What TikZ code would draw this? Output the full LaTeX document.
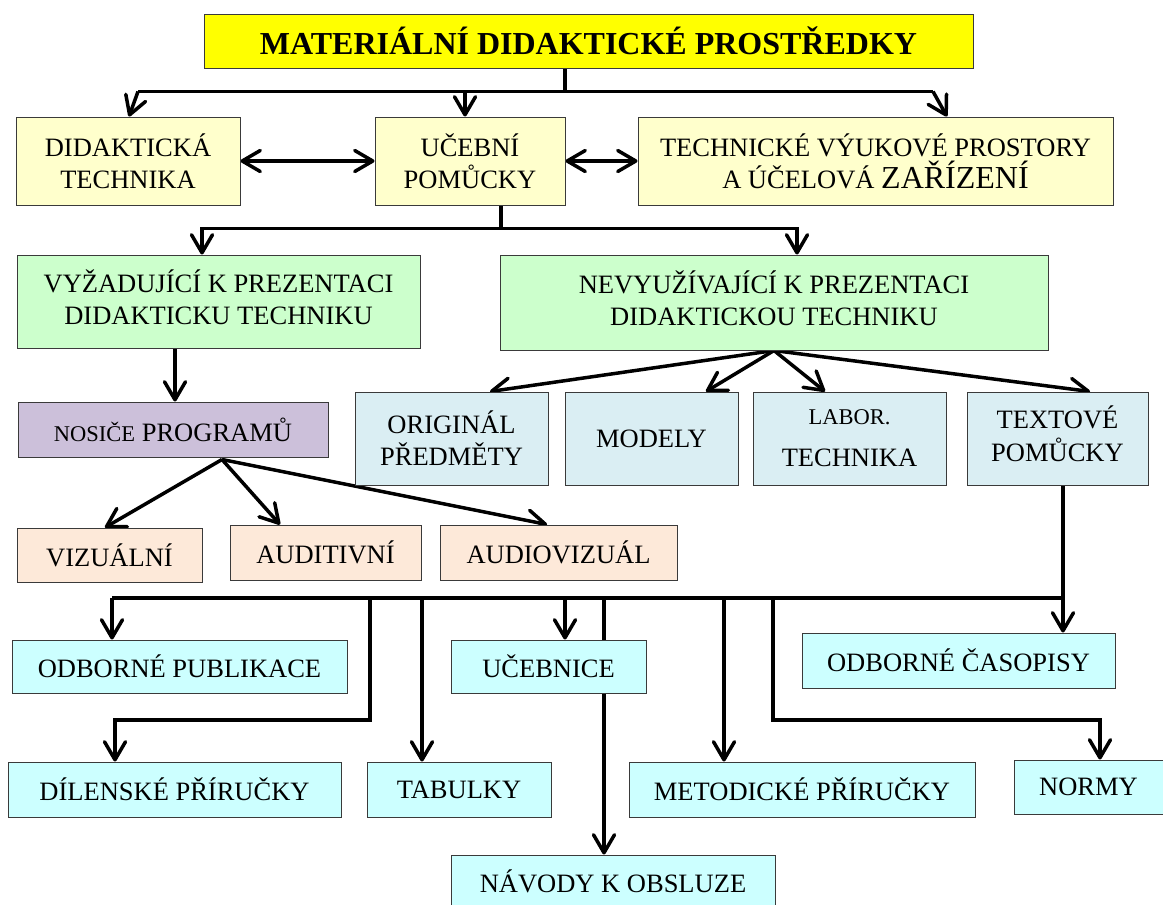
\documentclass[tikz,border=0pt]{standalone}
\usepackage{fontspec}
\setmainfont{Liberation Serif}
\usetikzlibrary{arrows.meta,calc}
\pgfdeclarelayer{bg}
\pgfsetlayers{bg,main}
\definecolor{cTitle}{HTML}{FFFF00}
\definecolor{cYel}{HTML}{FFFFCC}
\definecolor{cGreen}{HTML}{CCFFCC}
\definecolor{cPurp}{HTML}{CCC0DA}
\definecolor{cPeach}{HTML}{FDE9D9}
\definecolor{cBlue}{HTML}{DAEEF3}
\definecolor{cCyan}{HTML}{CCFFFF}
\definecolor{cBorder}{HTML}{3A3A3A}
\newcommand\smallcap[1]{{\fontsize{22.5}{28}\selectfont #1}}
\begin{document}
\begin{tikzpicture}[x=1pt,y=-1pt,
  box/.style={draw=cBorder,line width=1pt,inner sep=0pt,align=center,
    font=\fontsize{26.5}{32}\selectfont},
  conn/.style={line width=3.5pt},
  arr/.style={line width=3.5pt,-{Straight Barb[length=18pt,width=21pt,round]}},
  darr/.style={line width=3.5pt,{Straight Barb[length=18pt,width=21pt,round]}-{Straight Barb[length=18pt,width=21pt,round]}}]
\useasboundingbox (0,0) rectangle (1163,905);

% title
\node[box,fill=cTitle,minimum width=769,minimum height=54,
  font=\fontsize{32}{36}\selectfont\bfseries] (title) at (588.5,41) {MATERIÁLNÍ DIDAKTICKÉ PROSTŘEDKY};

% row 2
\node[box,fill=cYel,minimum width=224,minimum height=88] (dt) at (128,161) {DIDAKTICKÁ\\TECHNIKA};
\node[box,fill=cYel,minimum width=190,minimum height=88] (up) at (470,161) {UČEBNÍ\\POMŮCKY};
\node[box,fill=cYel,minimum width=475,minimum height=88] (tvp) at (875.5,161) {TECHNICKÉ VÝUKOVÉ PROSTORY\\A ÚČELOVÁ {\fontsize{32}{32}\selectfont ZAŘÍZENÍ}};

% row 3
\node[box,fill=cGreen,minimum width=403,minimum height=93] (vk) at (218.5,301.5) {\raisebox{5pt}{\begin{tabular}{@{}c@{}}VYŽADUJÍCÍ K PREZENTACI\\DIDAKTICKU TECHNIKU\end{tabular}}};
\node[box,fill=cGreen,minimum width=548,minimum height=95] (nk) at (774,302.5) {\raisebox{5pt}{\begin{tabular}{@{}c@{}}NEVYUŽÍVAJÍCÍ K PREZENTACI\\DIDAKTICKOU TECHNIKU\end{tabular}}};

% row 4
\node[box,fill=cPurp,minimum width=310,minimum height=55] (np) at (173,429.5) {\smallcap{NOSIČE} PROGRAMŮ};
\node[box,fill=cBlue,minimum width=193,minimum height=93] (orig) at (451.5,438.5) {ORIGINÁL\\PŘEDMĚTY};
\node[box,fill=cBlue,minimum width=173,minimum height=93] (mod) at (651.5,438.5) {MODELY};
\node[box,fill=cBlue,minimum width=193,minimum height=93] (lab) at (849.5,438.5) {\smallcap{LABOR.}\\[10pt]TECHNIKA};
\node[box,fill=cBlue,minimum width=181,minimum height=93] (text) at (1057.5,438.5) {\raisebox{5pt}{\begin{tabular}{@{}c@{}}TEXTOVÉ\\POMŮCKY\end{tabular}}};

% row 5
\node[box,fill=cPeach,minimum width=185,minimum height=54] (viz) at (109.5,555) {VIZUÁLNÍ};
\node[box,fill=cPeach,minimum width=191,minimum height=55] (aud) at (325.5,552.5) {AUDITIVNÍ};
\node[box,fill=cPeach,minimum width=237,minimum height=55] (av) at (558.5,552.5) {AUDIOVIZUÁL};

% bottom rows
\node[box,fill=cCyan,minimum width=335,minimum height=53] (op) at (179.5,666.5) {ODBORNÉ PUBLIKACE};
\node[box,fill=cCyan,minimum width=195,minimum height=53] (ucb) at (548.5,666.5) {UČEBNICE};
\node[box,fill=cCyan,minimum width=313,minimum height=55] (oc) at (958.5,660.5) {ODBORNÉ ČASOPISY};
\node[box,fill=cCyan,minimum width=333,minimum height=55] (dp) at (174.5,789.5) {DÍLENSKÉ PŘÍRUČKY};
\node[box,fill=cCyan,minimum width=184,minimum height=55] (tab) at (459,789.5) {TABULKY};
\node[box,fill=cCyan,minimum width=346,minimum height=55] (mp) at (802,789.5) {METODICKÉ PŘÍRUČKY};
\node[box,fill=cCyan,minimum width=149,minimum height=54] (nor) at (1088.5,787) {NORMY};
\node[box,fill=cCyan,minimum width=324,minimum height=52] (nav) at (613,881) {NÁVODY K OBSLUZE};

\begin{pgfonlayer}{bg}
% title to row 2
\coordinate (t0) at ([xshift=-23.5]title.south);
\coordinate (j1) at ([yshift=-23]t0);
\coordinate (jL) at (138,0 |- j1);
\coordinate (jR) at (933,0 |- j1);
\coordinate (upt) at ([xshift=-5]up.north);
\draw[conn] (t0) -- (j1);
\draw[conn] (jL) -- (jR);
\draw[arr] (jL) -- ([xshift=1]dt.north);
\draw[arr] (jR) -- ([xshift=71.5]tvp.north);
\draw[arr] (upt |- j1) -- (upt);
\draw[darr] (dt.east) -- (up.west);
\draw[darr] (up.east) -- (tvp.west);

% up to green
\coordinate (u0) at ([xshift=31]up.south);
\coordinate (j2) at ([yshift=-23]u0);
\draw[conn] (u0) -- (j2);
\draw[arr] (j2) -| ([xshift=-16.5]vk.north);
\draw[arr] (j2) -| ([xshift=23]nk.north);

% vk to np
\coordinate (v0) at ([xshift=-43.5]vk.south);
\draw[arr] (v0) -- (v0 |- np.north);

% np to row 5
\coordinate (n0) at ([xshift=49,yshift=-2]np.south);
\draw[arr] (n0) -- ([xshift=-4.5]viz.north);
\draw[arr] (n0) -- ([xshift=-45.5]aud.north);
\draw[arr] (n0) -- ([xshift=-11.5]av.north);

% nk to row 4
\draw[arr] (nk.south) -- ([xshift=38.5]orig.north);
\draw[arr] (nk.south) -- ([xshift=54.5]mod.north);
\draw[arr] (nk.south) -- ([xshift=-24.5]lab.north);
\draw[arr] (nk.south) -- ([xshift=32.5]text.north);

% textove pomucky bus
\coordinate (x0) at ([xshift=5.5]text.south);
\draw[arr] (x0) -- (x0 |- oc.north);
\coordinate (bus) at (x0 |- 0,598);
\coordinate (busL) at (112,598);
\draw[conn] (bus) -- (busL);
\draw[arr] (busL) -- (busL |- op.north);
\coordinate (b1) at (370,598);
\coordinate (b1d) at (370,720);
\draw[arr] (b1) -- (b1d) -| ([xshift=-59.5]dp.north);
\coordinate (b2) at ([xshift=-37]tab.north);
\draw[arr] (b2 |- bus) -- (b2);
\coordinate (b3) at ([xshift=16.5]ucb.north);
\draw[arr] (b3 |- bus) -- (b3);
\coordinate (b4) at ([xshift=-9]nav.north);
\draw[arr] (b4 |- bus) -- (b4);
\coordinate (b5) at ([xshift=-78]mp.north);
\draw[arr] (b5 |- bus) -- (b5);
\coordinate (b6) at (773,598);
\coordinate (b6d) at (773,720);
\draw[arr] (b6) -- (b6d) -| ([xshift=11.5]nor.north);
\end{pgfonlayer}
\end{tikzpicture}
\end{document}
